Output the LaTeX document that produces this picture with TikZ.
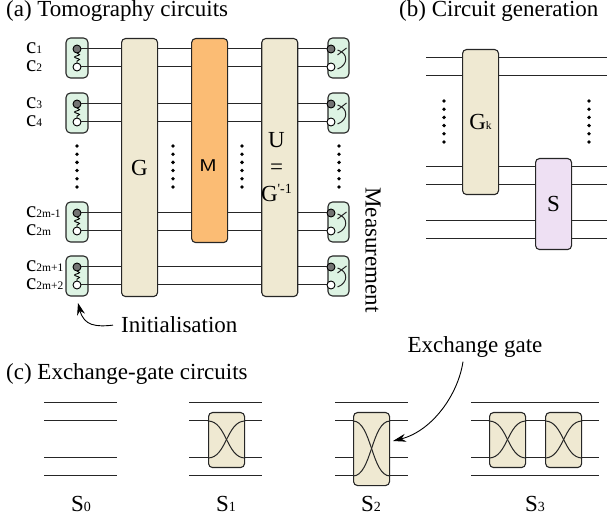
\documentclass[tikz,border=0pt]{standalone}
\usepackage{fontspec}
\setmainfont{Liberation Serif}
\usetikzlibrary{positioning, arrows.meta, decorations.pathmorphing}

\definecolor{gatebeige}{HTML}{EFE9D2}
\definecolor{boxgreen}{HTML}{DDF3E3}
\definecolor{gateorange}{HTML}{FBBC74}
\definecolor{gatelilac}{HTML}{EEE0F3}

\tikzset{
  wire/.style={line width=1pt, black!85},
  gate/.style={draw=black!85, line width=1.1pt, rounded corners=4pt, inner sep=0pt, minimum width=36pt, anchor=north west},
  gbox/.style={gate, fill=gatebeige},
  qbox/.style={draw=black!85, line width=1.1pt, rounded corners=4.5pt, fill=boxgreen, inner sep=0pt, minimum width=22pt, minimum height=40pt},
  qon/.style={circle, draw=black, fill=black!55, line width=.9pt, inner sep=0pt, minimum size=8pt, outer sep=0pt},
  qoff/.style={circle, draw=black, fill=white, line width=.9pt, inner sep=0pt, minimum size=8pt, outer sep=0pt},
  spring/.style={draw=black, line width=.9pt, decorate, decoration={snake, segment length=5pt, amplitude=2.5pt}},
  head/.style={font=\fontsize{23}{27}\selectfont, anchor=base west, inner sep=0pt},
  big/.style={font=\fontsize{23}{27}\selectfont, inner sep=0pt},
  clabel/.style={font=\fontsize{23}{23}\selectfont, anchor=base west, inner sep=0pt},
  dots/.style={circle, fill=black, inner sep=0pt, minimum size=3.8pt},
  xwire/.style={line width=1pt, black!85},
}

\newcommand{\subtxt}[1]{{\fontsize{11.5}{11.5}\selectfont #1}}
\newcommand{\subnum}[1]{{\fontsize{14}{14}\selectfont #1}}

\begin{document}
\begin{tikzpicture}[x=1pt, y=-1pt]
  \useasboundingbox (0,0) rectangle (608,518);

  % (a) Tomography circuits
  \node [head] (Ha) at (6,17) {(a) Tomography circuits};%
  % -- initialisation boxes
  \node [qbox] (I1) at (77,58) {};%
  \node [qbox] (I2) at (77,113) {};%
  \node [qbox] (I3) at (77,222) {};%
  \node [qbox] (I4) at (77,276) {};%
  \node [qon, above=5pt of I1.center] (I1a) {};%
  \node [qoff, below=5pt of I1.center] (I1b) {};%
  \node [qon, above=5pt of I2.center] (I2a) {};%
  \node [qoff, below=5pt of I2.center] (I2b) {};%
  \node [qon, above=5pt of I3.center] (I3a) {};%
  \node [qoff, below=5pt of I3.center] (I3b) {};%
  \node [qon, above=5pt of I4.center] (I4a) {};%
  \node [qoff, below=5pt of I4.center] (I4b) {};%
  \draw [spring] (I1a) -- (I1b);%
  \draw [spring] (I2a) -- (I2b);%
  \draw [spring] (I3a) -- (I3b);%
  \draw [spring] (I4a) -- (I4b);%
  % -- measurement boxes
  \node [qbox, minimum width=21pt] (O1) at (338.5,58) {};%
  \node [qbox, minimum width=21pt] (O2) at (338.5,113) {};%
  \node [qbox, minimum width=21pt] (O3) at (338.5,222) {};%
  \node [qbox, minimum width=21pt] (O4) at (338.5,276) {};%
  \node [qon, left=3.5pt of O1.center, yshift=9pt] (O1a) {};%
  \node [qoff, left=3.5pt of O1.center, yshift=-9pt] (O1b) {};%
  \node [qon, left=3.5pt of O2.center, yshift=9pt] (O2a) {};%
  \node [qoff, left=3.5pt of O2.center, yshift=-9pt] (O2b) {};%
  \node [qon, left=3.5pt of O3.center, yshift=9pt] (O3a) {};%
  \node [qoff, left=3.5pt of O3.center, yshift=-9pt] (O3b) {};%
  \node [qon, left=3.5pt of O4.center, yshift=9pt] (O4a) {};%
  \node [qoff, left=3.5pt of O4.center, yshift=-9pt] (O4b) {};%
  \draw [xwire] ([xshift=-1pt, yshift=8pt]O1.center) .. controls ([xshift=10pt, yshift=5pt]O1.center) and ([xshift=10pt, yshift=-7pt]O1.center) .. ([xshift=-1pt, yshift=-11pt]O1.center);%
  \draw [xwire] ([xshift=-1pt, yshift=3pt]O1.center) -- ([xshift=8pt, yshift=10pt]O1.center);%
  \draw [xwire] ([xshift=-1pt, yshift=8pt]O2.center) .. controls ([xshift=10pt, yshift=5pt]O2.center) and ([xshift=10pt, yshift=-7pt]O2.center) .. ([xshift=-1pt, yshift=-11pt]O2.center);%
  \draw [xwire] ([xshift=-1pt, yshift=3pt]O2.center) -- ([xshift=8pt, yshift=10pt]O2.center);%
  \draw [xwire] ([xshift=-1pt, yshift=8pt]O3.center) .. controls ([xshift=10pt, yshift=5pt]O3.center) and ([xshift=10pt, yshift=-7pt]O3.center) .. ([xshift=-1pt, yshift=-11pt]O3.center);%
  \draw [xwire] ([xshift=-1pt, yshift=3pt]O3.center) -- ([xshift=8pt, yshift=10pt]O3.center);%
  \draw [xwire] ([xshift=-1pt, yshift=8pt]O4.center) .. controls ([xshift=10pt, yshift=5pt]O4.center) and ([xshift=10pt, yshift=-7pt]O4.center) .. ([xshift=-1pt, yshift=-11pt]O4.center);%
  \draw [xwire] ([xshift=-1pt, yshift=3pt]O4.center) -- ([xshift=8pt, yshift=10pt]O4.center);%
  % -- wires
  \draw [wire] (I1a) -- (O1a);%
  \draw [wire] (I1b) -- (O1b);%
  \draw [wire] (I2a) -- (O2a);%
  \draw [wire] (I2b) -- (O2b);%
  \draw [wire] (I3a) -- (O3a);%
  \draw [wire] (I3b) -- (O3b);%
  \draw [wire] (I4a) -- (O4a);%
  \draw [wire] (I4b) -- (O4b);%
  % -- gates
  \node [gbox, minimum height=258pt] (G) at (121,38) {};%
  \node [gate, fill=gateorange, minimum height=204pt, right=33pt of G.north east, anchor=north west] (M) {};%
  \node [gbox, minimum height=258pt, right=33pt of M.north east, anchor=north west] (U) {};%
  \node [big] (Gl) at (G.center) {G};%
  \node [inner sep=0pt, xscale=1.25, transform shape, font=\fontsize{17}{17}\sffamily\selectfont] (Ml) at (208,166) {M};%
  \node [big, align=center] (Ul) at (276.5,167) {U\\=\\G\raisebox{8pt}{\subnum{\textquotesingle-1}}};%
  % -- wire labels
  \node [clabel] (c1) at (26,53.5) {c\subtxt{1}};%
  \node [clabel] (c2) at (26,71.5) {c\subtxt{2}};%
  \node [clabel] (c3) at (26,108.5) {c\subtxt{3}};%
  \node [clabel] (c4) at (26,126.5) {c\subtxt{4}};%
  \node [clabel] (c5) at (26,217.5) {c\subtxt{2m-1}};%
  \node [clabel] (c6) at (26,235.5) {c\subtxt{2m}};%
  \node [clabel] (c7) at (26,271.5) {c\subtxt{2m+1}};%
  \node [clabel] (c8) at (26,289.5) {c\subtxt{2m+2}};%
  % -- vertical dots
  \foreach \x/\nm in {77/a, 173/b, 242/c, 339/d}
    \foreach \y [count=\i] in {146,154.2,162.4,170.6,178.8,187}
      \node [dots] (D\nm\i) at (\x,\y) {};%
  % -- side labels
  \node [big, rotate=-90] (Ms) at (373,250) {Measurement};%
  \node [big, anchor=base west] (In) at (121,333) {Initialisation};%
  \coordinate (InTip) at (78,303);%
  \draw [-{Stealth[length=12pt, width=8pt]}, line width=.9pt] ([xshift=-8pt]In.west) .. controls (96,327) and (84,326) .. (InTip);%

  % (b) Circuit generation
  \node [head] (Hb) at (399,17) {(b) Circuit generation};%
  \coordinate (L1) at (426,58);%
  \coordinate (R1) at (607,58);%
  \coordinate (L2) at (426,76);%
  \coordinate (R2) at (607,76);%
  \coordinate (L3) at (426,167);%
  \coordinate (R3) at (607,167);%
  \coordinate (L4) at (426,185);%
  \coordinate (R4) at (607,185);%
  \coordinate (L5) at (426,221);%
  \coordinate (R5) at (607,221);%
  \coordinate (L6) at (426,239);%
  \coordinate (R6) at (607,239);%
  \draw [wire] (L1) -- (R1);%
  \draw [wire] (L2) -- (R2);%
  \draw [wire] (L3) -- (R3);%
  \draw [wire] (L4) -- (R4);%
  \draw [wire] (L5) -- (R5);%
  \draw [wire] (L6) -- (R6);%
  \node [gbox, minimum height=145pt] (Gk) at (462,49) {};%
  \node [gate, fill=gatelilac, minimum height=91pt] (S) at (535,158) {};%
  \node [big] (Gkl) at (Gk.center) {G\subtxt{k}};%
  \node [big] (Sl) at (S.center) {S};%
  \foreach \x/\nm in {444/e, 589/f}
    \foreach \y [count=\i] in {101,109.2,117.4,125.6,133.8,142}
      \node [dots] (D\nm\i) at (\x,\y) {};%

  % (c) Exchange-gate circuits
  \node [head] (Hc) at (6,380) {(c) Exchange-gate circuits};%
  % -- S0
  \coordinate (A1) at (44,403);%
  \coordinate (B1) at (117,403);%
  \coordinate (A2) at (44,421);%
  \coordinate (B2) at (117,421);%
  \coordinate (A3) at (44,458);%
  \coordinate (B3) at (117,458);%
  \coordinate (A4) at (44,476);%
  \coordinate (B4) at (117,476);%
  \draw [wire] (A1) -- (B1);%
  \draw [wire] (A2) -- (B2);%
  \draw [wire] (A3) -- (B3);%
  \draw [wire] (A4) -- (B4);%
  \node [big] (S0) at (81,504) {S\subnum{0}};%
  % -- S1
  \coordinate (E1) at (189,403);%
  \coordinate (F1) at (262,403);%
  \coordinate (E2) at (189,421);%
  \coordinate (F2) at (262,421);%
  \coordinate (E3) at (189,458);%
  \coordinate (F3) at (262,458);%
  \coordinate (E4) at (189,476);%
  \coordinate (F4) at (262,476);%
  \draw [wire] (E1) -- (F1);%
  \draw [wire] (E2) -- (F2);%
  \draw [wire] (E3) -- (F3);%
  \draw [wire] (E4) -- (F4);%
  \node [gbox, minimum height=55pt] (X1) at (208,412) {};%
  \draw [xwire] (X1.west |- E2) .. controls (X1.center |- E2) and (X1.center |- E3) .. (X1.east |- E3);%
  \draw [xwire] (X1.west |- E3) .. controls (X1.center |- E3) and (X1.center |- E2) .. (X1.east |- E2);%
  \node [big] (S1) at (226,504) {S\subnum{1}};%
  % -- S2
  \coordinate (J1) at (335,403);%
  \coordinate (K1) at (408,403);%
  \coordinate (J2) at (335,421);%
  \coordinate (K2) at (408,421);%
  \coordinate (J3) at (335,458);%
  \coordinate (K3) at (408,458);%
  \coordinate (J4) at (335,476);%
  \coordinate (K4) at (408,476);%
  \draw [wire] (J1) -- (K1);%
  \draw [wire] (J2) -- (K2);%
  \draw [wire] (J3) -- (K3);%
  \draw [wire] (J4) -- (K4);%
  \node [gbox, minimum height=73pt] (X2) at (353,412) {};%
  \draw [xwire] (X2.west |- J2) .. controls (X2.center |- J2) and (X2.center |- J4) .. (X2.east |- J4);%
  \draw [xwire] (X2.west |- J4) .. controls (X2.center |- J4) and (X2.center |- J2) .. (X2.east |- J2);%
  \node [big] (S2) at (371,504) {S\subnum{2}};%
  % -- S3
  \coordinate (P1) at (471,403);%
  \coordinate (Q1) at (599,403);%
  \coordinate (P2) at (471,421);%
  \coordinate (Q2) at (599,421);%
  \coordinate (P3) at (471,458);%
  \coordinate (Q3) at (599,458);%
  \coordinate (P4) at (471,476);%
  \coordinate (Q4) at (599,476);%
  \draw [wire] (P1) -- (Q1);%
  \draw [wire] (P2) -- (Q2);%
  \draw [wire] (P3) -- (Q3);%
  \draw [wire] (P4) -- (Q4);%
  \node [gbox, minimum height=55pt] (X3) at (489,412) {};%
  \node [gbox, minimum height=55pt, right=19pt of X3.north east, anchor=north west] (X4) {};%
  \draw [xwire] (X3.west |- P2) .. controls (X3.center |- P2) and (X3.center |- P3) .. (X3.east |- P3);%
  \draw [xwire] (X3.west |- P3) .. controls (X3.center |- P3) and (X3.center |- P2) .. (X3.east |- P2);%
  \draw [xwire] (X4.west |- P2) .. controls (X4.center |- P2) and (X4.center |- P3) .. (X4.east |- P3);%
  \draw [xwire] (X4.west |- P3) .. controls (X4.center |- P3) and (X4.center |- P2) .. (X4.east |- P2);%
  \node [big] (S3) at (535,504) {S\subnum{3}};%
  % -- exchange gate label
  \node [big] (Ex) at (475,347) {Exchange gate};%
  \coordinate (ExTip) at (393,441);%
  \draw [-{Stealth[length=13pt, width=8pt]}, line width=.9pt] ([xshift=-12pt, yshift=-4pt]Ex.south) .. controls (458,395) and (432,431) .. (ExTip);%
\end{tikzpicture}
\end{document}
